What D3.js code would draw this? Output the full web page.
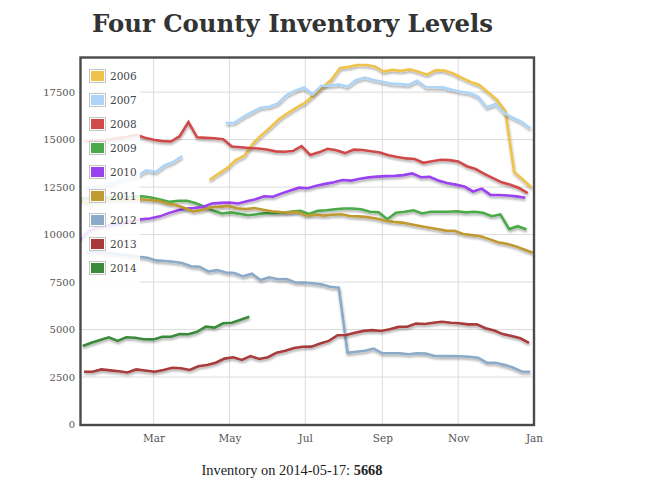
<!DOCTYPE html>
<html>
<head>
<meta charset="utf-8">
<script src="https://cdn.jsdelivr.net/npm/d3@7"></script>
<style>
  html, body { margin: 0; padding: 0; background: #fff; }
  svg { display: block; }
</style>
</head>
<body>
<svg id="chart" width="648" height="490"></svg>
<script>
// ---------------- DATA ----------------
const titleText = "Four County Inventory Levels";
const years = ["2006", "2007", "2008", "2009", "2010", "2011", "2012", "2013", "2014"];
const colors = ["#efc24a", "#aed5f5", "#d04a4a", "#4aaa4a", "#9a42f0", "#bf9a30", "#8aaac8", "#a83a3a", "#3a8a3a"];
// first weekly sample (Saturday) of each series
const firstDates = ["2006-04-15", "2007-01-06", "2008-01-05", "2009-01-03", "2010-01-02",
                    "2011-01-01", "2012-01-07", "2013-01-05", "2014-01-04"];

const v2006 = [12870, 13200, 13500, 13920, 14150, 14800, 15250, 15650, 16080, 16400,
               16680, 16950, 17350, 17750, 18150, 18770, 18830, 18930, 18930, 18850,
               18580, 18670, 18620, 18700, 18570, 18420, 18660, 18640, 18480, 18250,
               18040, 17880, 17500, 17100, 16500, 13300, 12900, 12480];
const v2007 = [12450, 12500, 12580, 12700, 12850, 12980, 13080, 13380, 13300, 13650,
               13830, 14130, null, null, null, null,
               15870, 15890, 16200, 16440, 16680, 16730, 16910, 17350, 17580, 17740,
               17390, 17840, 17840, 17910, 17790, 18140, 18270, 18140, 18050, 17950,
               17920, 17880, 18100, 17760, 17760, 17750, 17620, 17520, 17450, 17260,
               16700, 16880, 16400, 16150, 15930, 15590];
const v2008 = [14900, 14950, 14980, 15000, 15080, 15150, 15250, 15100, 14990, 14920,
               14900, 15180, 15920, 15120, 15090, 15070, 15020, 14640, 14600, 14560,
               14530, 14480, 14380, 14360, 14400, 14660, 14190, 14330, 14520, 14440,
               14290, 14470, 14450, 14390, 14320, 14180, 14080, 14010, 13980, 13780,
               13860, 13940, 13920, 13850, 13600, 13450, 13200, 12970, 12750, 12620,
               12450, 12180];
const v2009 = [11900, 11920, 11940, 11950, 11970, 11990, 12000, 12020, 11950,
               11830, 11720, 11780, 11780, 11650, 11470, 11250, 11110, 11170, 11100,
               11020, 11070, 11130, 11120, 11150, 11210, 11250, 11080, 11250, 11280,
               11330, 11370, 11370, 11330, 11200, 11180, 10810, 11150, 11200, 11280,
               11110, 11200, 11200, 11200, 11230, 11170, 11200, 11150, 10970, 11060,
               10290, 10440, 10270];
const v2010 = [9700, 10200, 10370, 10460, 10530, 10620, 10720, 10800, 10850, 10960,
               11130, 11270, 11370, 11400, 11470, 11640, 11670, 11690, 11640, 11760,
               11860, 12020, 11990, 12170, 12320, 12470, 12440, 12570, 12670, 12760,
               12870, 12840, 12940, 13010, 13050, 13080, 13090, 13130, 13220, 13020,
               13040, 12850, 12720, 12630, 12530, 12270, 12420, 12090, 12080, 12060,
               12010, 11940];
const v2011 = [11820, 11660, 11780, 11800, 11820, 11830, 11850, 11860, 11820, 11780,
               11640, 11560, 11400, 11220, 11290, 11440, 11460, 11510, 11390, 11340,
               11400, 11310, 11230, 11190, 11170, 11190, 10990, 11050, 11000, 11040,
               11070, 10980, 10960, 10920, 10850, 10740, 10670, 10630, 10540, 10450,
               10370, 10290, 10210, 10200, 10030, 9970, 9910, 9760, 9600, 9520,
               9390, 9210, 9040];
const v2012 = [9050, 9100, 9050, 9000, 8950, 8900, 8830, 8780, 8640, 8610,
               8570, 8500, 8330, 8300, 8060, 8130, 8000, 7980, 7800, 7940,
               7610, 7750, 7650, 7660, 7480, 7470, 7440, 7380, 7250, 7200,
               3780, 3830, 3880, 4000, 3750, 3750, 3750, 3700, 3750, 3730,
               3610, 3600, 3600, 3590, 3570, 3520, 3260, 3250, 3140, 3000,
               2790, 2780];
const v2013 = [2780, 2780, 2900, 2850, 2800, 2740, 2900, 2840, 2780, 2870,
               2990, 2960, 2870, 3070, 3130, 3250, 3470, 3540, 3400, 3600,
               3450, 3540, 3780, 3880, 4030, 4090, 4100, 4260, 4400, 4700,
               4710, 4830, 4930, 4970, 4920, 5010, 5140, 5150, 5320, 5290,
               5360, 5410, 5360, 5330, 5270, 5270, 5070, 4950, 4760, 4660,
               4540, 4300];
const v2014 = [4130, 4300, 4450, 4590, 4400, 4590, 4570, 4490, 4480, 4620,
               4620, 4760, 4750, 4880, 5150, 5100, 5330, 5360, 5510, 5668];
const seriesValues = [v2006, v2007, v2008, v2009, v2010, v2011, v2012, v2013, v2014];

const yTicks = [0, 2500, 5000, 7500, 10000, 12500, 15000, 17500];
const xTickLabels = ["Mar", "May", "Jul", "Sep", "Nov", "Jan"];
const footerLabel = "Inventory on 2014-05-17: ";
const footerValue = "5668";

// ---------------- BUILD ----------------
const parse = d3.timeParse("%Y-%m-%d");
const toRef = d => new Date(2012, d.getMonth(), d.getDate());
const series = years.map((y, k) => {
  const start = parse(firstDates[k]);
  return {
    year: y, color: colors[k],
    points: seriesValues[k].map((v, i) => ({ date: toRef(d3.timeDay.offset(start, 7 * i)), value: v }))
  };
});

const svg = d3.select("#chart");
const L = 79, R = 534, T = 57, B = 424.5;
const serif = "'DejaVu Serif', Georgia, serif";

const x = d3.scaleTime().domain([new Date(2012, 0, 1), new Date(2013, 0, 1)]).range([L, R]);
const y = d3.scaleLinear().domain([0, 19350]).range([B, T]);

const defs = svg.append("defs");
defs.append("clipPath").attr("id", "plotclip")
  .append("rect").attr("x", L + 2).attr("y", T + 1).attr("width", R - L - 3).attr("height", B - T - 2);
const f = defs.append("filter").attr("id", "shadow").attr("x", "-5%").attr("y", "-20%").attr("width", "110%").attr("height", "140%");
f.append("feDropShadow").attr("dx", 0.5).attr("dy", 2).attr("stdDeviation", 0.9)
  .attr("flood-color", "#000").attr("flood-opacity", 0.32);

// title
const title = svg.append("text").text(titleText)
  .attr("x", 92).attr("y", 32)
  .style("font-family", serif).style("font-weight", "bold")
  .style("font-size", "26px").attr("fill", "#333");
const tw = title.node().getComputedTextLength();
title.style("font-size", (26 * 401 / tw) + "px");

// gridlines
const xTickDates = [2, 4, 6, 8, 10].map(m => new Date(2012, m, 1)).concat([new Date(2013, 0, 1)]);
const grid = svg.append("g");
grid.selectAll("line.h").data(yTicks).join("line")
  .attr("x1", L).attr("x2", R).attr("y1", d => y(d)).attr("y2", d => y(d))
  .attr("stroke", "#dcdcdc").attr("stroke-width", 1);
grid.selectAll("line.v").data(xTickDates).join("line")
  .attr("x1", d => x(d)).attr("x2", d => x(d)).attr("y1", T).attr("y2", B)
  .attr("stroke", "#dcdcdc").attr("stroke-width", 1);

// y axis labels
const yAxis = d3.axisLeft(y).tickValues(yTicks).tickSize(0).tickPadding(0).tickFormat(d3.format("d"));
const ya = svg.append("g").attr("transform", `translate(${L - 4},0)`).call(yAxis);
ya.select(".domain").remove();
ya.selectAll("text").style("font-family", serif).style("font-size", "10px").attr("fill", "#555");

// x axis labels
const xAxis = d3.axisBottom(x).tickValues(xTickDates).tickSize(0).tickPadding(0)
  .tickFormat((d, i) => xTickLabels[i]);
const xa = svg.append("g").attr("transform", `translate(0,${B + 17})`).call(xAxis);
xa.select(".domain").remove();
xa.selectAll("text").attr("dy", 0).style("font-family", serif).style("font-size", "10.5px").attr("fill", "#555");

// lines
const line = d3.line().defined(d => d.value != null).x(d => x(d.date)).y(d => y(d.value));
const lg = svg.append("g").attr("clip-path", "url(#plotclip)");
lg.selectAll("path").data(series).join("path")
  .attr("d", d => line(d.points))
  .attr("fill", "none").attr("stroke", d => d.color)
  .attr("stroke-width", 2.6).attr("stroke-linejoin", "miter").attr("filter", "url(#shadow)");

// legend
const leg = svg.append("g");
leg.append("rect").attr("x", L + 3).attr("y", T + 2).attr("width", 58).attr("height", 224)
  .attr("fill", "#fff").attr("opacity", 0.86);
const rows = leg.selectAll("g.row").data(series).join("g")
  .attr("transform", (d, i) => `translate(89,${76 + i * 24})`);
rows.append("rect").attr("x", 0.5).attr("y", -6.5).attr("width", 16).attr("height", 13)
  .attr("fill", "#fff").attr("stroke", "#c4c4c4").attr("stroke-width", 1);
rows.append("rect").attr("x", 2).attr("y", -5).attr("width", 13).attr("height", 10)
  .attr("fill", d => d.color);
rows.append("text").text(d => d.year).attr("x", 21).attr("y", 4)
  .style("font-family", serif).style("font-size", "10.5px").attr("fill", "#444");

// frame
svg.append("rect").attr("x", L + 1.5).attr("y", T + 0.5).attr("width", R - L - 1.5).attr("height", B - T)
  .attr("fill", "none").attr("stroke", "#4a4a4a").attr("stroke-width", 2.4);

// footer
const foot = svg.append("text").attr("x", 292).attr("y", 475).attr("text-anchor", "middle")
  .style("font-family", "'Liberation Serif', 'Times New Roman', serif").style("font-size", "14px").attr("fill", "#222");
foot.append("tspan").text(footerLabel);
foot.append("tspan").text(footerValue).style("font-weight", "bold");
const fw = foot.node().getComputedTextLength();
foot.style("font-size", Math.min(15, 14 * 181 / fw) + "px");
</script>
</body>
</html>
